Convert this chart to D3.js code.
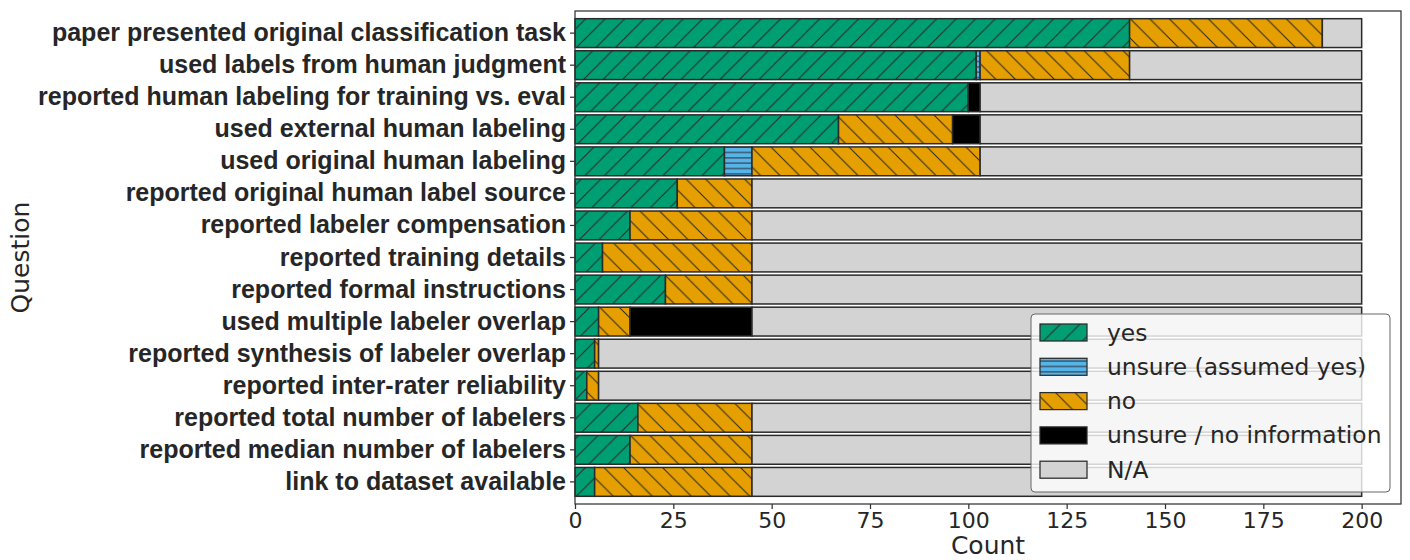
<!DOCTYPE html>
<html><head><meta charset="utf-8">
<script src="https://cdn.jsdelivr.net/npm/d3@7"></script>
<style>html,body{margin:0;padding:0;background:#fff;}</style>
</head><body>
<svg id="chart" width="1410" height="560"></svg>
<script>
const categories = [
  "paper presented original classification task",
  "used labels from human judgment",
  "reported human labeling for training vs. eval",
  "used external human labeling",
  "used original human labeling",
  "reported original human label source",
  "reported labeler compensation",
  "reported training details",
  "reported formal instructions",
  "used multiple labeler overlap",
  "reported synthesis of labeler overlap",
  "reported inter-rater reliability",
  "reported total number of labelers",
  "reported median number of labelers",
  "link to dataset available"
];
const yes          = [141,102,100,67,38,26,14, 7,23, 6, 5, 3,16,14, 5];
const unsureYes    = [  0,  1,  0, 0, 7, 0, 0, 0, 0, 0, 0, 0, 0, 0, 0];
const no           = [ 49, 38,  0,29,58,19,31,38,22, 8, 1, 3,29,31,40];
const unsureNoInfo = [  0,  0,  3, 7, 0, 0, 0, 0, 0,31, 0, 0, 0, 0, 0];
const na           = [ 10, 59, 97,97,97,155,155,155,155,155,194,194,155,155,155];
const seriesNames = ["yes","unsure (assumed yes)","no","unsure / no information","N/A"];
const xTicks = [0,25,50,75,100,125,150,175,200];

const seriesKeys = ["yes","unsureYes","no","unsureNoInfo","na"];
const seriesArrays = [yes, unsureYes, no, unsureNoInfo, na];
const colors = ["#009E73","#56B4E9","#E69F00","#000000","#D3D3D3"];
const fills = ["url(#hatchYes)","url(#hatchUnsure)","url(#hatchNo)","#000000","#D3D3D3"];

const table = categories.map((c,i)=>{
  const o = {cat:c};
  seriesKeys.forEach((k,j)=>o[k]=seriesArrays[j][i]);
  return o;
});

const svg = d3.select("#chart");
const L = 575, R = 1401, T = 11, B = 504;
const x = d3.scaleLinear().domain([0,210]).range([L,R]);
const y = d3.scaleBand().domain(categories).range([T,B]).paddingInner(0.1).paddingOuter(0.24);

const edge = "#2a2a2a";
const defs = svg.append("defs");
function diagPattern(id, color, dir){
  const s = 19.5;
  const p = defs.append("pattern").attr("id",id).attr("patternUnits","userSpaceOnUse")
    .attr("width",s).attr("height",s);
  p.append("rect").attr("width",s).attr("height",s).attr("fill",color);
  const g = p.append("g").attr("stroke",edge).attr("stroke-width",1);
  if(dir>0){
    g.append("line").attr("x1",0).attr("y1",s).attr("x2",s).attr("y2",0);
    g.append("line").attr("x1",-s).attr("y1",s).attr("x2",s).attr("y2",-s);
    g.append("line").attr("x1",0).attr("y1",2*s).attr("x2",2*s).attr("y2",0);
  } else {
    g.append("line").attr("x1",0).attr("y1",0).attr("x2",s).attr("y2",s);
    g.append("line").attr("x1",-s).attr("y1",0).attr("x2",s).attr("y2",2*s);
    g.append("line").attr("x1",0).attr("y1",-s).attr("x2",2*s).attr("y2",s);
  }
}
diagPattern("hatchYes", colors[0], 1);
diagPattern("hatchNo", colors[2], -1);
{
  const s = 5.35;
  const p = defs.append("pattern").attr("id","hatchUnsure").attr("patternUnits","userSpaceOnUse")
    .attr("width",20).attr("height",s);
  p.append("rect").attr("width",20).attr("height",s).attr("fill",colors[1]);
  p.append("line").attr("x1",0).attr("x2",20).attr("y1",s/2).attr("y2",s/2)
    .attr("stroke",edge).attr("stroke-width",1);
}

svg.append("rect").attr("x",L).attr("y",T).attr("width",R-L).attr("height",B-T).attr("fill","#fff");

const stack = d3.stack().keys(seriesKeys);
const stacked = stack(table);
const gBars = svg.append("g");
stacked.forEach((layer,j)=>{
  gBars.append("g").selectAll("rect").data(layer.filter(d=>d[1]-d[0]>0)).join("rect")
    .attr("x",d=>x(d[0]))
    .attr("y",d=>y(d.data.cat))
    .attr("width",d=>x(d[1])-x(d[0]))
    .attr("height",y.bandwidth())
    .attr("fill",fills[j])
    .attr("stroke",edge)
    .attr("stroke-width",1.5);
});

svg.append("rect").attr("x",L).attr("y",T).attr("width",R-L).attr("height",B-T)
  .attr("fill","none").attr("stroke","#333").attr("stroke-width",1.25);

const xAxis = d3.axisBottom(x).tickValues(xTicks).tickSize(5).tickPadding(3).tickFormat(d3.format("d"));
const gx = svg.append("g").attr("transform",`translate(0,${B})`).call(xAxis);
gx.select(".domain").remove();
gx.selectAll("line").attr("stroke","#333").attr("stroke-width",1.25);
gx.selectAll("text").attr("font-family","DejaVu Sans").attr("font-size",22).attr("fill","#262626");

const yAxis = d3.axisLeft(y).tickSize(5).tickPadding(4);
const gy = svg.append("g").attr("transform",`translate(${L},0)`).call(yAxis);
gy.select(".domain").remove();
gy.selectAll("line").attr("stroke","#333").attr("stroke-width",1.25);
gy.selectAll("text").attr("font-family","Liberation Sans").attr("font-weight","bold")
  .attr("font-size",25).attr("fill","#262626");

svg.append("text").attr("x",(L+R)/2).attr("y",554).attr("text-anchor","middle")
  .attr("font-family","DejaVu Sans").attr("font-size",25).attr("fill","#262626").text("Count");
svg.append("text").attr("transform",`translate(29,${(T+B)/2}) rotate(-90)`).attr("text-anchor","middle")
  .attr("font-family","DejaVu Sans").attr("font-size",25).attr("fill","#262626").text("Question");

const lg = svg.append("g");
lg.append("rect").attr("x",1031).attr("y",314).attr("width",359).attr("height",178).attr("rx",4)
  .attr("fill","#fff").attr("fill-opacity",0.8).attr("stroke","#666").attr("stroke-width",1);
seriesNames.forEach((n,j)=>{
  const yy = 324 + j*34.3;
  lg.append("rect").attr("x",1040).attr("y",yy).attr("width",47).attr("height",17)
    .attr("fill",fills[j]).attr("stroke",edge).attr("stroke-width",1.25);
  lg.append("text").attr("x",1107).attr("y",yy+16.5).attr("font-family","DejaVu Sans")
    .attr("font-size",23.4).attr("fill","#262626").text(n);
});
</script>
</body></html>
